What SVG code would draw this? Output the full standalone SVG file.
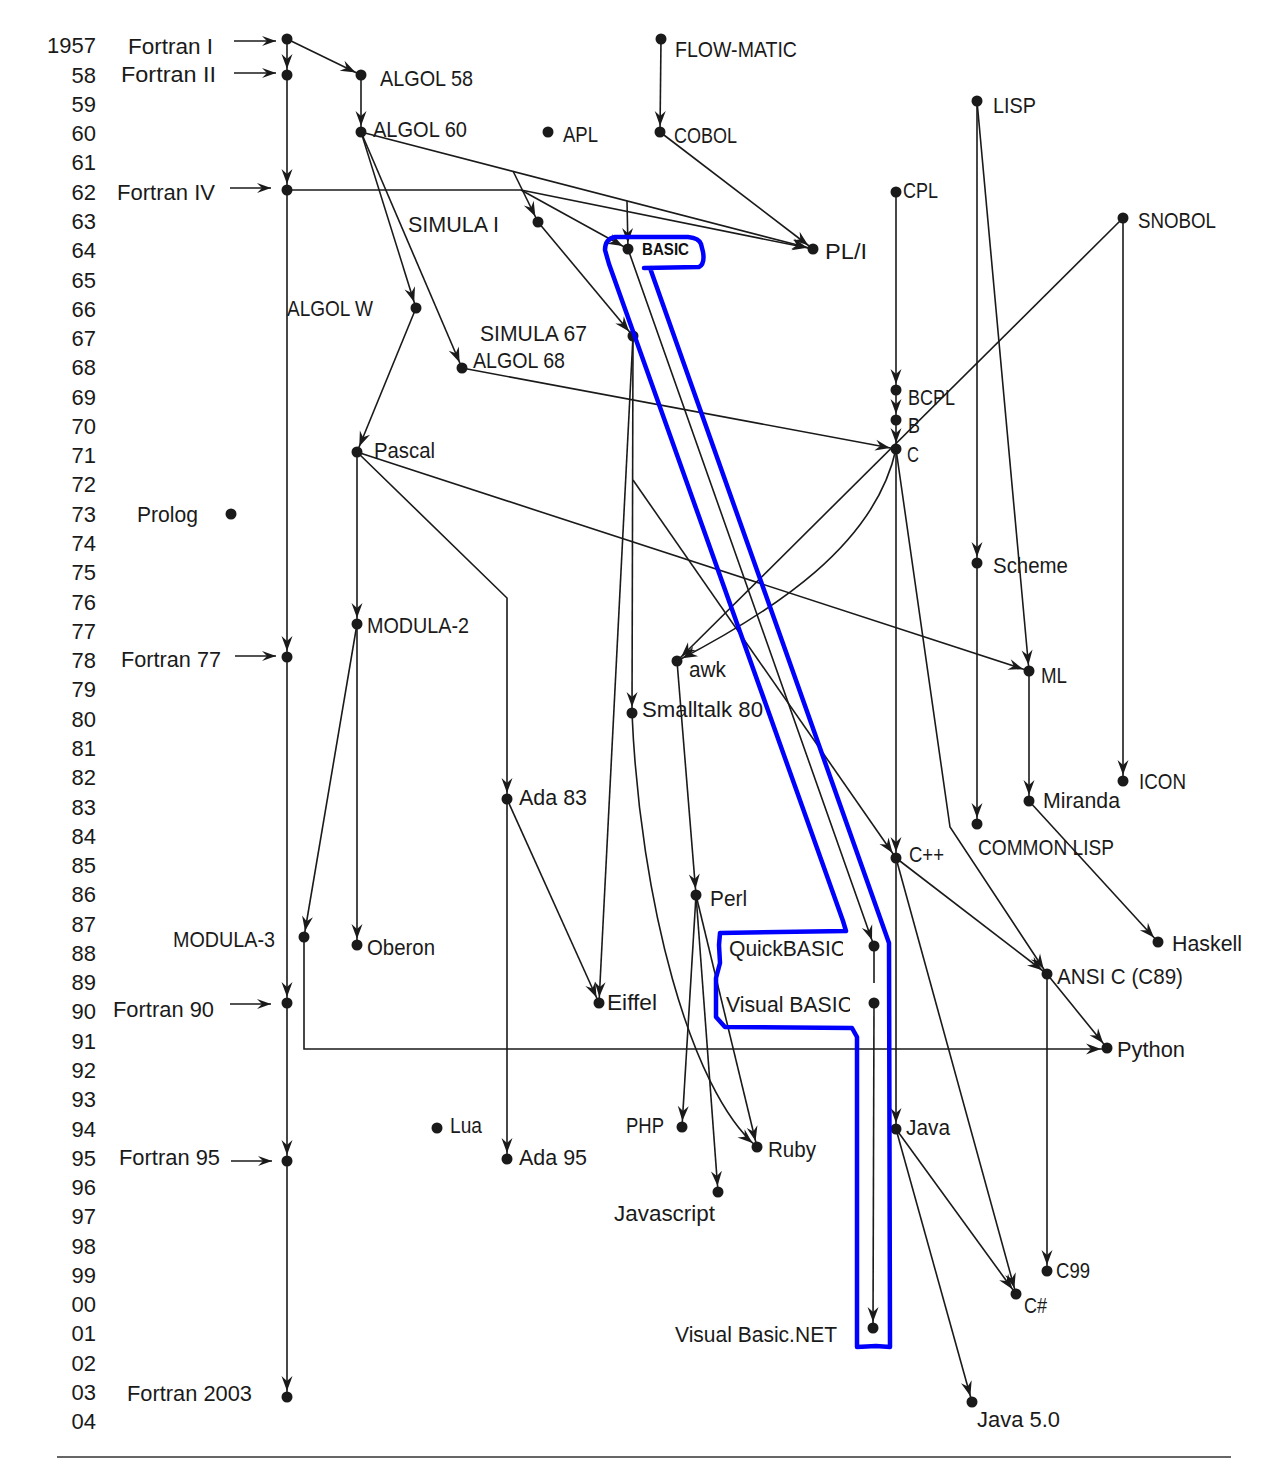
<svg xmlns="http://www.w3.org/2000/svg" width="1268" height="1468" viewBox="0 0 1268 1468">
  <style>
    .lbl { font-family: "Liberation Sans", Arial, sans-serif; font-size: 22px; fill: #1a1a1a; }
    .yr { font-family: "Liberation Sans", Arial, sans-serif; font-size: 22px; fill: #1a1a1a; text-anchor: end; }
    .bold { font-family: "Liberation Sans", Arial, sans-serif; font-size: 16px; font-weight: bold; fill: #111; }
    .dot { fill: #1a1a1a; }
    .edge { fill: none; stroke: #1a1a1a; stroke-width: 1.6; marker-end: url(#arr); }
    .plain { fill: none; stroke: #1a1a1a; stroke-width: 1.6; }
    .feed { fill: none; stroke: #1a1a1a; stroke-width: 1.6; marker-end: url(#arrTip); }
    .mark { fill: none; stroke: #0000ff; stroke-width: 4.5; stroke-linejoin: round; stroke-linecap: round; }
  </style>
  <defs>
    <!-- barbed arrowhead; tip stops just short of the target dot -->
    <marker id="arr" markerUnits="userSpaceOnUse" markerWidth="16" markerHeight="12" viewBox="-16 -6 16 12" refX="6" refY="0" orient="auto" overflow="visible">
      <path d="M0,0 L-15,-5.5 L-10,0 L-15,5.5 Z" fill="#1a1a1a"/>
    </marker>
    <!-- same arrowhead with the tip exactly on the line end -->
    <marker id="arrTip" markerUnits="userSpaceOnUse" markerWidth="16" markerHeight="12" viewBox="-16 -6 16 12" refX="0" refY="0" orient="auto" overflow="visible">
      <path d="M0,0 L-14,-5 L-9,0 L-14,5 Z" fill="#1a1a1a"/>
    </marker>
    <clipPath id="clip-qb"><rect x="700" y="928" width="143" height="40"/></clipPath>
    <clipPath id="clip-vb"><rect x="700" y="985" width="150" height="40"/></clipPath>
  </defs>

  <rect x="0" y="0" width="1268" height="1468" fill="#ffffff"/>

  <!-- year axis -->
  <g id="years">
    <text class="yr" x="96" y="53.3">1957</text>
    <text class="yr" x="96" y="82.6">58</text>
    <text class="yr" x="96" y="111.9">59</text>
    <text class="yr" x="96" y="141.1">60</text>
    <text class="yr" x="96" y="170.4">61</text>
    <text class="yr" x="96" y="199.7">62</text>
    <text class="yr" x="96" y="229.0">63</text>
    <text class="yr" x="96" y="258.2">64</text>
    <text class="yr" x="96" y="287.5">65</text>
    <text class="yr" x="96" y="316.8">66</text>
    <text class="yr" x="96" y="346.1">67</text>
    <text class="yr" x="96" y="375.3">68</text>
    <text class="yr" x="96" y="404.6">69</text>
    <text class="yr" x="96" y="433.9">70</text>
    <text class="yr" x="96" y="463.2">71</text>
    <text class="yr" x="96" y="492.4">72</text>
    <text class="yr" x="96" y="521.7">73</text>
    <text class="yr" x="96" y="551.0">74</text>
    <text class="yr" x="96" y="580.3">75</text>
    <text class="yr" x="96" y="609.5">76</text>
    <text class="yr" x="96" y="638.8">77</text>
    <text class="yr" x="96" y="668.1">78</text>
    <text class="yr" x="96" y="697.4">79</text>
    <text class="yr" x="96" y="726.6">80</text>
    <text class="yr" x="96" y="755.9">81</text>
    <text class="yr" x="96" y="785.2">82</text>
    <text class="yr" x="96" y="814.5">83</text>
    <text class="yr" x="96" y="843.7">84</text>
    <text class="yr" x="96" y="873.0">85</text>
    <text class="yr" x="96" y="902.3">86</text>
    <text class="yr" x="96" y="931.6">87</text>
    <text class="yr" x="96" y="960.8">88</text>
    <text class="yr" x="96" y="990.1">89</text>
    <text class="yr" x="96" y="1019.4">90</text>
    <text class="yr" x="96" y="1048.7">91</text>
    <text class="yr" x="96" y="1077.9">92</text>
    <text class="yr" x="96" y="1107.2">93</text>
    <text class="yr" x="96" y="1136.5">94</text>
    <text class="yr" x="96" y="1165.8">95</text>
    <text class="yr" x="96" y="1195.0">96</text>
    <text class="yr" x="96" y="1224.3">97</text>
    <text class="yr" x="96" y="1253.6">98</text>
    <text class="yr" x="96" y="1282.9">99</text>
    <text class="yr" x="96" y="1312.1">00</text>
    <text class="yr" x="96" y="1341.4">01</text>
    <text class="yr" x="96" y="1370.7">02</text>
    <text class="yr" x="96" y="1400.0">03</text>
    <text class="yr" x="96" y="1429.2">04</text>
  </g>

  <!-- influence connectors -->
  <g id="connectors">
    <!-- label feeds into the Fortran line -->
    <path class="feed" d="M234,41 L276,41"/>
    <path class="feed" d="M234,73 L276,73"/>
    <path class="feed" d="M230,188 L271,188"/>
    <path class="feed" d="M235,656 L276,656"/>
    <path class="feed" d="M230,1004 L271,1004"/>
    <path class="feed" d="M231,1161 L272,1161"/>

    <!-- Fortran lineage -->
    <path class="edge" d="M287,39 L287,75"/>
    <path class="edge" d="M287,39 L361,75"/>
    <path class="edge" d="M287,75 L287,190"/>
    <path class="edge" d="M287,190 L287,657"/>
    <path class="edge" d="M287,657 L287,1003"/>
    <path class="edge" d="M287,1003 L287,1161"/>
    <path class="edge" d="M287,1161 L287,1397"/>
    <path class="plain" d="M287,190 L521,190"/>
    <path class="edge" d="M521,190 L628,249"/>
    <path class="edge" d="M521,190 L813,249"/>

    <!-- ALGOL family -->
    <path class="edge" d="M361,75 L361,132"/>
    <path class="edge" d="M361,132 L813,249"/>
    <path class="edge" d="M513,171 L538,222"/>
    <path class="edge" d="M627,201 L628,249"/>
    <path class="edge" d="M361,132 L416,308"/>
    <path class="edge" d="M361,132 L462,368"/>
    <path class="edge" d="M538,222 L633,336"/>
    <path class="edge" d="M416,308 L357,452"/>
    <path class="edge" d="M462,368 L896,449"/>

    <!-- COBOL -->
    <path class="edge" d="M661,39 L660,132"/>
    <path class="edge" d="M660,132 L813,249"/>

    <!-- CPL / BCPL / B / C -->
    <path class="edge" d="M896,192 L896,390"/>
    <path class="edge" d="M896,390 L896,420"/>
    <path class="edge" d="M896,420 L896,449"/>
    <path class="edge" d="M1123,218 L677,661"/>
    <path class="edge" d="M896,449 C875,545 775,610 677,661"/>

    <!-- LISP / SNOBOL -->
    <path class="edge" d="M977,101 L977,563"/>
    <path class="edge" d="M977,101 L1029,671"/>
    <path class="edge" d="M977,563 L977,824"/>
    <path class="edge" d="M1029,671 L1029,801"/>
    <path class="edge" d="M1123,218 L1123,781"/>
    <path class="edge" d="M1029,801 L1158,942"/>

    <!-- Pascal and Modula -->
    <path class="edge" d="M357,452 L357,624"/>
    <path class="edge" d="M357,452 L1029,671"/>
    <path class="edge" d="M357,452 L507,598 L507,799"/>
    <path class="edge" d="M357,624 L357,945"/>
    <path class="edge" d="M357,624 L304,937"/>
    <path class="edge" d="M304,937 L304,1049 L1107,1049"/>

    <!-- Simula 67 descendants -->
    <path class="edge" d="M633,336 L632,713"/>
    <path class="edge" d="M633,336 L599,1003"/>
    <path class="edge" d="M633,480 L896,858"/>

    <!-- C descendants -->
    <path class="edge" d="M896,449 L896,858"/>
    <path class="edge" d="M896,858 L896,1129"/>
    <path class="edge" d="M896,449 L950,827 L1047,974"/>
    <path class="edge" d="M896,858 L1047,974"/>
    <path class="edge" d="M896,858 L1016,1294"/>
    <path class="edge" d="M896,1129 L1016,1294"/>
    <path class="edge" d="M896,1129 L972,1402"/>
    <path class="edge" d="M1047,974 L1107,1048"/>
    <path class="edge" d="M1047,974 L1047,1271"/>

    <!-- Ada -->
    <path class="edge" d="M507,799 L599,1003"/>
    <path class="edge" d="M507,799 L507,1159"/>

    <!-- scripting languages -->
    <path class="edge" d="M632,713 C640,900 690,1090 757,1147"/>
    <path class="edge" d="M677,661 L696,895"/>
    <path class="edge" d="M696,895 L682,1127"/>
    <path class="edge" d="M696,895 L718,1192"/>
    <path class="edge" d="M696,895 L757,1147"/>

    <!-- BASIC line -->
    <path class="edge" d="M628,249 L874,946"/>
    <path class="plain" d="M874,946 L874,983"/>
    <path class="edge" d="M874,1003 L873,1328"/>
  </g>

  <!-- nodes -->
  <g id="node-fortran-i"><circle class="dot" cx="287" cy="39" r="5.5"/><text class="lbl" x="128" y="54" textLength="85" lengthAdjust="spacingAndGlyphs">Fortran I</text></g>
  <g id="node-fortran-ii"><circle class="dot" cx="287" cy="75" r="5.5"/><text class="lbl" x="121" y="82" textLength="95" lengthAdjust="spacingAndGlyphs">Fortran II</text></g>
  <g id="node-fortran-iv"><circle class="dot" cx="287" cy="190" r="5.5"/><text class="lbl" x="117" y="200" textLength="98" lengthAdjust="spacingAndGlyphs">Fortran IV</text></g>
  <g id="node-fortran-77"><circle class="dot" cx="287" cy="657" r="5.5"/><text class="lbl" x="121" y="667" textLength="100" lengthAdjust="spacingAndGlyphs">Fortran 77</text></g>
  <g id="node-fortran-90"><circle class="dot" cx="287" cy="1003" r="5.5"/><text class="lbl" x="113" y="1017" textLength="101" lengthAdjust="spacingAndGlyphs">Fortran 90</text></g>
  <g id="node-fortran-95"><circle class="dot" cx="287" cy="1161" r="5.5"/><text class="lbl" x="119" y="1165" textLength="101" lengthAdjust="spacingAndGlyphs">Fortran 95</text></g>
  <g id="node-fortran-2003"><circle class="dot" cx="287" cy="1397" r="5.5"/><text class="lbl" x="127" y="1401" textLength="125" lengthAdjust="spacingAndGlyphs">Fortran 2003</text></g>

  <g id="node-algol-58"><circle class="dot" cx="361" cy="75" r="5.5"/><text class="lbl" x="380" y="86" textLength="93" lengthAdjust="spacingAndGlyphs">ALGOL 58</text></g>
  <g id="node-algol-60"><circle class="dot" cx="361" cy="132" r="5.5"/><text class="lbl" x="373" y="137" textLength="94" lengthAdjust="spacingAndGlyphs">ALGOL 60</text></g>
  <g id="node-apl"><circle class="dot" cx="548" cy="132" r="5.5"/><text class="lbl" x="563" y="142" textLength="35" lengthAdjust="spacingAndGlyphs">APL</text></g>
  <g id="node-flow-matic"><circle class="dot" cx="661" cy="39" r="5.5"/><text class="lbl" x="675" y="57" textLength="122" lengthAdjust="spacingAndGlyphs">FLOW-MATIC</text></g>
  <g id="node-cobol"><circle class="dot" cx="660" cy="132" r="5.5"/><text class="lbl" x="674" y="143" textLength="63" lengthAdjust="spacingAndGlyphs">COBOL</text></g>
  <g id="node-lisp"><circle class="dot" cx="977" cy="101" r="5.5"/><text class="lbl" x="993" y="113" textLength="43" lengthAdjust="spacingAndGlyphs">LISP</text></g>
  <g id="node-cpl"><circle class="dot" cx="896" cy="192" r="5.5"/><text class="lbl" x="903" y="198" textLength="35" lengthAdjust="spacingAndGlyphs">CPL</text></g>
  <g id="node-snobol"><circle class="dot" cx="1123" cy="218" r="5.5"/><text class="lbl" x="1138" y="228" textLength="78" lengthAdjust="spacingAndGlyphs">SNOBOL</text></g>
  <g id="node-simula-i"><circle class="dot" cx="538" cy="222" r="5.5"/><text class="lbl" x="408" y="232" textLength="91" lengthAdjust="spacingAndGlyphs">SIMULA I</text></g>
  <g id="node-basic"><circle class="dot" cx="628" cy="249" r="5.5"/><text class="bold" x="642" y="255" textLength="47" lengthAdjust="spacingAndGlyphs">BASIC</text></g>
  <g id="node-pl-i"><circle class="dot" cx="813" cy="249" r="5.5"/><text class="lbl" x="825" y="259" textLength="42" lengthAdjust="spacingAndGlyphs">PL/I</text></g>
  <g id="node-algol-w"><circle class="dot" cx="416" cy="308" r="5.5"/><text class="lbl" x="287" y="316" textLength="86" lengthAdjust="spacingAndGlyphs">ALGOL W</text></g>
  <g id="node-simula-67"><circle class="dot" cx="633" cy="336" r="5.5"/><text class="lbl" x="480" y="341" textLength="107" lengthAdjust="spacingAndGlyphs">SIMULA 67</text></g>
  <g id="node-algol-68"><circle class="dot" cx="462" cy="368" r="5.5"/><text class="lbl" x="473" y="368" textLength="92" lengthAdjust="spacingAndGlyphs">ALGOL 68</text></g>
  <g id="node-bcpl"><circle class="dot" cx="896" cy="390" r="5.5"/><text class="lbl" x="908" y="405" textLength="47" lengthAdjust="spacingAndGlyphs">BCPL</text></g>
  <g id="node-b"><circle class="dot" cx="896" cy="420" r="5.5"/><text class="lbl" x="908" y="433" textLength="12" lengthAdjust="spacingAndGlyphs">B</text></g>
  <g id="node-c"><circle class="dot" cx="896" cy="449" r="5.5"/><text class="lbl" x="907" y="462" textLength="12" lengthAdjust="spacingAndGlyphs">C</text></g>
  <g id="node-pascal"><circle class="dot" cx="357" cy="452" r="5.5"/><text class="lbl" x="374" y="458" textLength="61" lengthAdjust="spacingAndGlyphs">Pascal</text></g>
  <g id="node-prolog"><circle class="dot" cx="231" cy="514" r="5.5"/><text class="lbl" x="137" y="522" textLength="61" lengthAdjust="spacingAndGlyphs">Prolog</text></g>
  <g id="node-scheme"><circle class="dot" cx="977" cy="563" r="5.5"/><text class="lbl" x="993" y="573" textLength="75" lengthAdjust="spacingAndGlyphs">Scheme</text></g>
  <g id="node-modula-2"><circle class="dot" cx="357" cy="624" r="5.5"/><text class="lbl" x="367" y="633" textLength="102" lengthAdjust="spacingAndGlyphs">MODULA-2</text></g>
  <g id="node-awk"><circle class="dot" cx="677" cy="661" r="5.5"/><text class="lbl" x="689" y="677" textLength="37" lengthAdjust="spacingAndGlyphs">awk</text></g>
  <g id="node-ml"><circle class="dot" cx="1029" cy="671" r="5.5"/><text class="lbl" x="1041" y="683" textLength="26" lengthAdjust="spacingAndGlyphs">ML</text></g>
  <g id="node-smalltalk-80"><circle class="dot" cx="632" cy="713" r="5.5"/><text class="lbl" x="642" y="717" textLength="121" lengthAdjust="spacingAndGlyphs">Smalltalk 80</text></g>
  <g id="node-icon"><circle class="dot" cx="1123" cy="781" r="5.5"/><text class="lbl" x="1139" y="789" textLength="47" lengthAdjust="spacingAndGlyphs">ICON</text></g>
  <g id="node-ada-83"><circle class="dot" cx="507" cy="799" r="5.5"/><text class="lbl" x="519" y="805" textLength="68" lengthAdjust="spacingAndGlyphs">Ada 83</text></g>
  <g id="node-miranda"><circle class="dot" cx="1029" cy="801" r="5.5"/><text class="lbl" x="1043" y="808" textLength="77" lengthAdjust="spacingAndGlyphs">Miranda</text></g>
  <g id="node-common-lisp"><circle class="dot" cx="977" cy="824" r="5.5"/><text class="lbl" x="978" y="855" textLength="136" lengthAdjust="spacingAndGlyphs">COMMON LISP</text></g>
  <g id="node-cpp"><circle class="dot" cx="896" cy="858" r="5.5"/><text class="lbl" x="909" y="862" textLength="35" lengthAdjust="spacingAndGlyphs">C++</text></g>
  <g id="node-perl"><circle class="dot" cx="696" cy="895" r="5.5"/><text class="lbl" x="710" y="906" textLength="37" lengthAdjust="spacingAndGlyphs">Perl</text></g>
  <g id="node-haskell"><circle class="dot" cx="1158" cy="942" r="5.5"/><text class="lbl" x="1172" y="951" textLength="70" lengthAdjust="spacingAndGlyphs">Haskell</text></g>
  <g id="node-modula-3"><circle class="dot" cx="304" cy="937" r="5.5"/><text class="lbl" x="173" y="947" textLength="102" lengthAdjust="spacingAndGlyphs">MODULA-3</text></g>
  <g id="node-oberon"><circle class="dot" cx="357" cy="945" r="5.5"/><text class="lbl" x="367" y="955" textLength="68" lengthAdjust="spacingAndGlyphs">Oberon</text></g>
  <g id="node-quickbasic"><circle class="dot" cx="874" cy="946" r="5.5"/><text class="lbl" x="729" y="956" textLength="117" lengthAdjust="spacingAndGlyphs" clip-path="url(#clip-qb)">QuickBASIC</text></g>
  <g id="node-ansi-c"><circle class="dot" cx="1047" cy="974" r="5.5"/><text class="lbl" x="1057" y="984" textLength="126" lengthAdjust="spacingAndGlyphs">ANSI C (C89)</text></g>
  <g id="node-eiffel"><circle class="dot" cx="599" cy="1003" r="5.5"/><text class="lbl" x="607" y="1010" textLength="50" lengthAdjust="spacingAndGlyphs">Eiffel</text></g>
  <g id="node-visual-basic"><circle class="dot" cx="874" cy="1003" r="5.5"/><text class="lbl" x="726" y="1012" textLength="127" lengthAdjust="spacingAndGlyphs" clip-path="url(#clip-vb)">Visual BASIC</text></g>
  <g id="node-python"><circle class="dot" cx="1107" cy="1048" r="5.5"/><text class="lbl" x="1117" y="1057" textLength="68" lengthAdjust="spacingAndGlyphs">Python</text></g>
  <g id="node-lua"><circle class="dot" cx="437" cy="1128" r="5.5"/><text class="lbl" x="450" y="1133" textLength="32" lengthAdjust="spacingAndGlyphs">Lua</text></g>
  <g id="node-php"><circle class="dot" cx="682" cy="1127" r="5.5"/><text class="lbl" x="626" y="1133" textLength="38" lengthAdjust="spacingAndGlyphs">PHP</text></g>
  <g id="node-java"><circle class="dot" cx="896" cy="1129" r="5.5"/><text class="lbl" x="906" y="1135" textLength="44" lengthAdjust="spacingAndGlyphs">Java</text></g>
  <g id="node-ruby"><circle class="dot" cx="757" cy="1147" r="5.5"/><text class="lbl" x="768" y="1157" textLength="48" lengthAdjust="spacingAndGlyphs">Ruby</text></g>
  <g id="node-ada-95"><circle class="dot" cx="507" cy="1159" r="5.5"/><text class="lbl" x="519" y="1165" textLength="68" lengthAdjust="spacingAndGlyphs">Ada 95</text></g>
  <g id="node-javascript"><circle class="dot" cx="718" cy="1192" r="5.5"/><text class="lbl" x="614" y="1221" textLength="101" lengthAdjust="spacingAndGlyphs">Javascript</text></g>
  <g id="node-c99"><circle class="dot" cx="1047" cy="1271" r="5.5"/><text class="lbl" x="1056" y="1278" textLength="34" lengthAdjust="spacingAndGlyphs">C99</text></g>
  <g id="node-csharp"><circle class="dot" cx="1016" cy="1294" r="5.5"/><text class="lbl" x="1024" y="1313" textLength="23" lengthAdjust="spacingAndGlyphs">C#</text></g>
  <g id="node-visual-basic-net"><circle class="dot" cx="873" cy="1328" r="5.5"/><text class="lbl" x="675" y="1342" textLength="162" lengthAdjust="spacingAndGlyphs">Visual Basic.NET</text></g>
  <g id="node-java-5"><circle class="dot" cx="972" cy="1402" r="5.5"/><text class="lbl" x="977" y="1427" textLength="83" lengthAdjust="spacingAndGlyphs">Java 5.0</text></g>

  <!-- hand-drawn outline around the BASIC lineage -->
  <g id="highlight">
    <path class="mark" d="M644,268 L699,267 Q705,264 703,252 L701,244 Q699,238 688,237 L615,237 Q605,239 605,250 L609,264 L843,921 L846,931 L720,933 L719,945 L720,963 L716,978 L716,1017 L725,1027 L852,1028 L857,1037 L857,1347 L876,1346 L890,1347 L889,943 L650,268"/>
  </g>

  <!-- bottom rule -->
  <line x1="57" y1="1457" x2="1231" y2="1457" stroke="#333" stroke-width="1.5"/>
</svg>
